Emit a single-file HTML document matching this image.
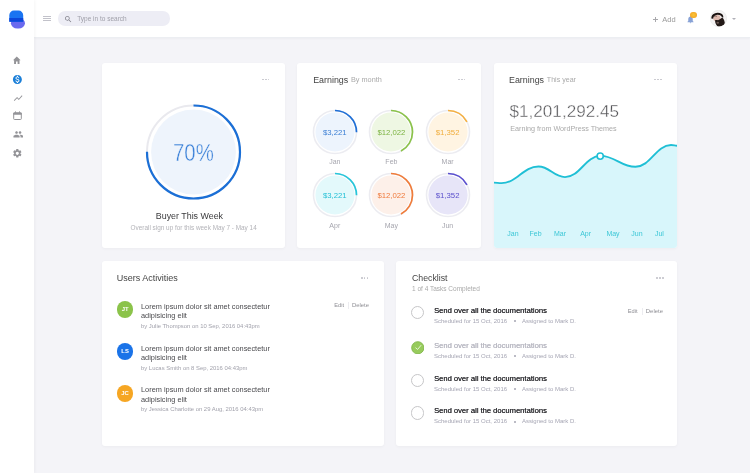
<!DOCTYPE html>
<html><head><meta charset="utf-8">
<style>
*{box-sizing:border-box;margin:0;padding:0}
html,body{width:750px;height:473px;overflow:hidden}
body{background:#f4f4f8;font-family:"Liberation Sans",Arial,sans-serif;position:relative;color:#444}
.a{position:absolute}
.t{position:absolute;line-height:1;white-space:nowrap}
#side{left:0;top:0;width:34px;height:473px;background:#fff;box-shadow:1px 0 3px rgba(0,0,0,.045);z-index:2}
#head{left:34px;top:0;width:716px;height:38px;background:#fff;border-bottom:1px solid #eceef2;box-shadow:0 1px 2px rgba(0,0,0,.03)}
.card{position:absolute;background:#fff;border-radius:3px;box-shadow:0 1px 3px rgba(0,0,0,.035)}
.dots{position:absolute;width:8px;height:2px}
.dots i{position:absolute;top:0;width:1.5px;height:1.5px;border-radius:50%;background:#c4c4cb}
.ttl{font-size:8.9px;color:#444}
.sub{color:#aaa}
</style></head><body>

<!-- sidebar -->
<div id="side" class="a">
  <svg class="a" style="left:0;top:0" width="35" height="36" viewBox="0 0 35 36">
    <defs><clipPath id="lgc"><path d="M9.3 21.7 V15.2 A4.6 4.6 0 0 1 13.9 10.6 H18.6 A4.6 4.6 0 0 1 23.2 15.2 V21.7 Z"/></clipPath></defs>
    <rect x="10.9" y="17.9" width="14.1" height="10.7" rx="6.4" ry="5.3" fill="#6a6aef"/>
    <path d="M9.3 21.7 V15.2 A4.6 4.6 0 0 1 13.9 10.6 H18.6 A4.6 4.6 0 0 1 23.2 15.2 V21.7 Z" fill="#1a74f2"/>
    <rect x="8" y="18" width="17" height="5" fill="#0d47da" clip-path="url(#lgc)"/>
  </svg>
  <!-- icons -->
  <svg class="a" style="left:0;top:0" width="35" height="70" viewBox="0 0 35 70"><path fill="#949498" d="M16.8 56.5 L20.6 60.3 H19.5 V64 H17.6 V61.6 H16 V64 H14.1 V60.3 H13 Z"/></svg>
  <svg class="a" style="left:11.9px;top:73.7px" width="10.8" height="10.8" viewBox="0 0 24 24"><path fill="#1b7fd8" d="M12 2C6.48 2 2 6.48 2 12s4.48 10 10 10 10-4.48 10-10S17.52 2 12 2zm1.41 16.09V20h-2.67v-1.93c-1.71-.36-3.16-1.46-3.27-3.4h1.96c.1 1.05.82 1.870 2.65 1.87 1.96 0 2.4-.98 2.4-1.59 0-.83-.44-1.61-2.67-2.14-2.48-.6-4.18-1.62-4.18-3.67 0-1.72 1.39-2.84 3.11-3.21V4h2.67v1.95c1.86.45 2.79 1.860 2.85 3.39H14.3c-.05-1.11-.64-1.87-2.22-1.87-1.5 0-2.4.68-2.4 1.64 0 .84.65 1.39 2.67 1.91s4.18 1.39 4.18 3.91c-.01 1.830-1.38 2.830-3.12 3.16z"/></svg>
  <svg class="a" style="left:12.5px;top:93.1px" width="10.3" height="10.3" viewBox="0 0 24 24"><path fill="#949498" d="M3.5 18.49l6-6.01 4 4L22 6.92l-1.41-1.41-7.09 7.97-4-4L2 16.99z"/></svg>
  <svg class="a" style="left:0;top:100px" width="35" height="30" viewBox="0 100 35 30"><rect x="13.7" y="112.9" width="7.6" height="6.6" rx="0.8" fill="none" stroke="#949498" stroke-width="1"/><rect x="13.2" y="112.4" width="8.6" height="2.4" rx="0.8" fill="#949498"/><rect x="15" y="111.4" width="1" height="1.4" fill="#949498"/><rect x="19" y="111.4" width="1" height="1.4" fill="#949498"/></svg>
  <svg class="a" style="left:12.6px;top:129.3px" width="10.6" height="10.6" viewBox="0 0 24 24"><path fill="#949498" d="M16 11c1.66 0 2.99-1.34 2.99-3S17.66 5 16 5c-1.66 0-3 1.34-3 3s1.34 3 3 3zm-8 0c1.66 0 2.99-1.34 2.99-3S9.66 5 8 5C6.34 5 5 6.34 5 8s1.34 3 3 3zm0 2c-2.33 0-7 1.17-7 3.5V19h14v-2.5c0-2.33-4.67-3.5-7-3.5zm8 0c-.29 0-.62.02-.97.05 1.16.84 1.97 1.970 1.97 3.45V19h6v-2.5c0-2.33-4.67-3.5-7-3.5z"/></svg>
  <svg class="a" style="left:11.9px;top:148px" width="10.6" height="10.6" viewBox="0 0 24 24"><path fill="#949498" d="M19.14 12.94c.04-.3.06-.61.06-.94 0-.32-.02-.64-.07-.94l2.03-1.58c.18-.14.23-.41.12-.61l-1.92-3.32c-.12-.22-.37-.29-.59-.22l-2.39.96c-.5-.38-1.03-.7-1.62-.94l-.36-2.54c-.04-.24-.24-.41-.48-.41h-3.84c-.24 0-.43.17-.47.41l-.36 2.54c-.59.24-1.130.57-1.62.94l-2.39-.96c-.22-.08-.47 0-.59.22L2.74 8.87c-.12.21-.08.47.12.61l2.03 1.58c-.05.3-.09.63-.09.94s.02.64.07.94l-2.030 1.58c-.18.14-.23.41-.12.61l1.92 3.32c.12.22.37.29.59.22l2.39-.96c.5.38 1.030.7 1.62.94l.36 2.54c.05.24.24.41.48.41h3.84c.24 0 .44-.17.47-.41l.36-2.54c.59-.24 1.13-.56 1.62-.94l2.39.96c.22.08.47 0 .59-.22l1.92-3.32c.12-.22.07-.47-.12-.61l-2.01-1.58zM12 15.6c-1.98 0-3.6-1.62-3.6-3.6s1.62-3.6 3.6-3.6 3.6 1.62 3.6 3.6-1.62 3.6-3.6 3.6z"/></svg>
</div>

<!-- header -->
<div id="head" class="a"></div>
<div class="a" style="left:43.2px;top:16px;width:8px;height:0.9px;background:#c2c2ca"></div>
<div class="a" style="left:43.2px;top:18.2px;width:8px;height:0.9px;background:#c2c2ca"></div>
<div class="a" style="left:43.2px;top:20.4px;width:8px;height:0.9px;background:#c2c2ca"></div>
<div class="a" style="left:58.4px;top:11.4px;width:111.8px;height:14.4px;border-radius:7.2px;background:#ededf5"></div>
<svg class="a" style="left:63.8px;top:14.6px" width="8.5" height="8.5" viewBox="0 0 24 24"><path fill="#7c7c86" d="M15.5 14h-.79l-.28-.27C15.41 12.59 16 11.11 16 9.5 16 5.91 13.09 3 9.5 3S3 5.91 3 9.5 5.91 16 9.5 16c1.61 0 3.09-.59 4.23-1.57l.27.28v.79l5 4.99L20.49 19l-4.99-5zm-6 0C7.01 14 5 11.99 5 9.5S7.01 5 9.5 5 14 7.01 14 9.5 11.99 14 9.5 14z"/></svg>
<div class="t" style="left:77.2px;top:15.6px;font-size:6.5px;color:#a0a0aa">Type in to search</div>

<div class="a" style="left:653px;top:19px;width:5.4px;height:0.75px;background:#a8a8ac"></div><div class="a" style="left:655.3px;top:16.6px;width:0.75px;height:5.4px;background:#a8a8ac"></div>
<div class="t" style="left:662.3px;top:15.8px;font-size:7.5px;color:#9a9a9a">Add</div>
<svg class="a" style="left:685.6px;top:15.2px" width="9" height="9" viewBox="0 0 24 24"><path fill="#88a2d6" d="M12 22c1.1 0 2-.9 2-2h-4c0 1.1.89 2 2 2zm6-6v-5c0-3.070-1.64-5.64-4.5-6.32V4c0-.83-.67-1.5-1.5-1.5s-1.5.67-1.5 1.5v.68C7.63 5.36 6 7.92 6 11v5l-2 2v1h16v-1l-2-2z"/></svg>
<div class="a" style="left:690.4px;top:12.2px;width:6.2px;height:6.2px;border-radius:50%;background:radial-gradient(circle,#f9c53a 0,#f5a623 75%)"></div>
<svg class="a" style="left:709.8px;top:10.2px" width="17" height="17" viewBox="0 0 34 34">
  <defs><clipPath id="av"><circle cx="17" cy="17" r="16"/></clipPath></defs>
  <circle cx="17" cy="17" r="16.4" fill="#f4f3f3" stroke="#dedede" stroke-width="0.8"/>
  <g clip-path="url(#av)">
    <ellipse cx="13.8" cy="16.6" rx="7.2" ry="6.4" fill="#dcb8ad"/>
    <path d="M2.6 17 C2.5 12 5 8.5 9 7 C13 5 19 5 23 7.5 C26 9.5 27 12 26.5 15 L23.5 14.5 C23.5 11.5 20 9.5 15.5 9.5 C11 9.5 7 11.5 6.2 17.5 Z" fill="#1a1210"/>
    <path d="M10 21 C11 19.5 14 19.8 16 20.5 C19 19 22 17 24.5 15 C28 18 30 23 29.5 28 C28 32 23 34 18 33.5 C13.5 33 10.5 28 10 21 Z" fill="#231917"/>
    <ellipse cx="15.5" cy="25.5" rx="2.6" ry="2.2" fill="#6e5c57"/>
    <path d="M8 12.8 C10 11.8 12.5 12 14 13" fill="none" stroke="#3a2824" stroke-width="1.1"/>
  </g>
</svg>
<div class="a" style="left:732px;top:18px;width:0;height:0;border-left:2px solid transparent;border-right:2px solid transparent;border-top:2px solid #b0b0b8"></div>

<!-- Card 1 -->
<div class="card" style="left:102px;top:63px;width:183px;height:185px"></div>
<div class="dots" style="left:262.2px;top:78.65px"><i style="left:0"></i><i style="left:2.9px"></i><i style="left:5.8px"></i></div>
<svg class="a" style="left:140px;top:99px" width="108" height="108" viewBox="0 0 108 108">
  <circle cx="53.5" cy="53" r="42.4" fill="#eef4fc"/>
  <circle cx="53.5" cy="53" r="46.5" fill="none" stroke="#e9e9ee" stroke-width="2"/>
  <circle cx="53.5" cy="53" r="46.5" fill="none" stroke="#1b6fd6" stroke-width="2.2" stroke-dasharray="219.1 400" transform="rotate(-90 53.5 53)"/>
</svg>
<div class="t" style="left:173.4px;top:141.5px;font-size:23.4px;color:#3a80d8;-webkit-text-stroke:0.4px #eef4fc;transform:scaleX(0.87);transform-origin:0 0">70%</div>
<div class="t ttl" style="left:155.8px;top:211.8px;color:#3a3a3c">Buyer This Week</div>
<div class="t sub" style="left:130.6px;top:225.2px;font-size:6.4px;color:#b3b3b8">Overall sign up for this week May 7 - May 14</div>

<!-- Card 2 -->
<div class="card" style="left:297px;top:63px;width:184px;height:185px"></div>
<div class="t ttl" style="left:313.2px;top:75.5px">Earnings</div>
<div class="t sub" style="left:351px;top:76.2px;font-size:7.3px">By month</div>
<div class="dots" style="left:458.2px;top:78.55px"><i style="left:0"></i><i style="left:2.9px"></i><i style="left:5.8px"></i></div>
<div id="months">
<svg class="a" style="left:309.8px;top:106.5px" width="50" height="50" viewBox="0 0 50 50"><circle cx="25" cy="25" r="19.6" fill="#edf4fd"/><circle cx="25" cy="25" r="21.5" fill="none" stroke="#ececf1" stroke-width="1.6"/><circle cx="25" cy="25" r="21.5" fill="none" stroke="#1f6fd6" stroke-width="1.7" stroke-dasharray="33.77 200" transform="rotate(-90 25 25)"/></svg>
<div class="t" style="left:304.8px;width:60px;text-align:center;top:128.9px;font-size:7.75px;color:#3b7fd4">$3,221</div>
<div class="t sub" style="left:304.8px;width:60px;text-align:center;top:157.7px;font-size:7px;color:#a6a6ae">Jan</div>
<svg class="a" style="left:366.4px;top:106.5px" width="50" height="50" viewBox="0 0 50 50"><circle cx="25" cy="25" r="19.6" fill="#eef7e3"/><circle cx="25" cy="25" r="21.5" fill="none" stroke="#ececf1" stroke-width="1.6"/><circle cx="25" cy="25" r="21.5" fill="none" stroke="#8bc34a" stroke-width="1.7" stroke-dasharray="56.74 200" transform="rotate(-90 25 25)"/></svg>
<div class="t" style="left:361.4px;width:60px;text-align:center;top:128.9px;font-size:7.75px;color:#7cb342">$12,022</div>
<div class="t sub" style="left:361.4px;width:60px;text-align:center;top:157.7px;font-size:7px;color:#a6a6ae">Feb</div>
<svg class="a" style="left:422.6px;top:106.5px" width="50" height="50" viewBox="0 0 50 50"><circle cx="25" cy="25" r="19.6" fill="#fff4e2"/><circle cx="25" cy="25" r="21.5" fill="none" stroke="#ececf1" stroke-width="1.6"/><circle cx="25" cy="25" r="21.5" fill="none" stroke="#f5b041" stroke-width="1.7" stroke-dasharray="22.97 200" transform="rotate(-90 25 25)"/></svg>
<div class="t" style="left:417.6px;width:60px;text-align:center;top:128.9px;font-size:7.75px;color:#f0ad3c">$1,352</div>
<div class="t sub" style="left:417.6px;width:60px;text-align:center;top:157.7px;font-size:7px;color:#a6a6ae">Mar</div>
<svg class="a" style="left:309.8px;top:169.7px" width="50" height="50" viewBox="0 0 50 50"><circle cx="25" cy="25" r="19.6" fill="#e3f9fb"/><circle cx="25" cy="25" r="21.5" fill="none" stroke="#ececf1" stroke-width="1.6"/><circle cx="25" cy="25" r="21.5" fill="none" stroke="#26c6da" stroke-width="1.7" stroke-dasharray="33.77 200" transform="rotate(-90 25 25)"/></svg>
<div class="t" style="left:304.8px;width:60px;text-align:center;top:192.1px;font-size:7.75px;color:#26c0d6">$3,221</div>
<div class="t sub" style="left:304.8px;width:60px;text-align:center;top:222.0px;font-size:7px;color:#a6a6ae">Apr</div>
<svg class="a" style="left:366.4px;top:169.7px" width="50" height="50" viewBox="0 0 50 50"><circle cx="25" cy="25" r="19.6" fill="#fdf0e9"/><circle cx="25" cy="25" r="21.5" fill="none" stroke="#ececf1" stroke-width="1.6"/><circle cx="25" cy="25" r="21.5" fill="none" stroke="#f07c3a" stroke-width="1.7" stroke-dasharray="56.74 200" transform="rotate(-90 25 25)"/></svg>
<div class="t" style="left:361.4px;width:60px;text-align:center;top:192.1px;font-size:7.75px;color:#ef7a3c">$12,022</div>
<div class="t sub" style="left:361.4px;width:60px;text-align:center;top:222.0px;font-size:7px;color:#a6a6ae">May</div>
<svg class="a" style="left:422.6px;top:169.7px" width="50" height="50" viewBox="0 0 50 50"><circle cx="25" cy="25" r="19.6" fill="#e7e5f8"/><circle cx="25" cy="25" r="21.5" fill="none" stroke="#ececf1" stroke-width="1.6"/><circle cx="25" cy="25" r="21.5" fill="none" stroke="#5a4fcf" stroke-width="1.7" stroke-dasharray="22.97 200" transform="rotate(-90 25 25)"/></svg>
<div class="t" style="left:417.6px;width:60px;text-align:center;top:192.1px;font-size:7.75px;color:#5b50cc">$1,352</div>
<div class="t sub" style="left:417.6px;width:60px;text-align:center;top:222.0px;font-size:7px;color:#a6a6ae">Jun</div>
</div><!--/months-->

<!-- Card 3 -->
<div class="card" style="left:494px;top:63px;width:183px;height:185px;overflow:hidden"></div>
<div class="t ttl" style="left:509px;top:75.5px">Earnings</div>
<div class="t sub" style="left:546.8px;top:77px;font-size:7.1px">This year</div>
<div class="dots" style="left:654.4px;top:78.65px"><i style="left:0"></i><i style="left:2.9px"></i><i style="left:5.8px"></i></div>
<div class="t" style="left:509.6px;top:102.5px;font-size:17.1px;color:#555558;-webkit-text-stroke:0.35px #fff">$1,201,292.45</div>
<div class="t sub" style="left:510.3px;top:124.8px;font-size:7.2px">Earning from WordPress Themes</div>
<div id="chart">
<div class="a" style="left:494px;top:135px;width:183px;height:113px;overflow:hidden;border-radius:0 0 3px 3px"><svg style="display:block" width="183" height="113" viewBox="0 0 183 113"><path d="M-0.50 47.60 C2.86 47.60 4.14 48.10 7.50 48.10 C23.04 48.10 28.96 31.50 44.50 31.50 C55.63 31.50 59.87 42.10 71.00 42.10 C85.91 42.10 91.59 20.90 106.50 20.90 C121.20 20.90 126.80 31.80 141.50 31.80 C156.41 31.80 162.09 10.00 177.00 10.00 C179.94 10.00 181.06 10.80 184.00 10.80 L185 113 L-2 113 Z" fill="#d8f6fb"/><path d="M-0.50 47.60 C2.86 47.60 4.14 48.10 7.50 48.10 C23.04 48.10 28.96 31.50 44.50 31.50 C55.63 31.50 59.87 42.10 71.00 42.10 C85.91 42.10 91.59 20.90 106.50 20.90 C121.20 20.90 126.80 31.80 141.50 31.80 C156.41 31.80 162.09 10.00 177.00 10.00 C179.94 10.00 181.06 10.80 184.00 10.80" fill="none" stroke="#1fbfd5" stroke-width="1.9" stroke-linecap="round"/><circle cx="106.2" cy="21.1" r="3.1" fill="#fff" stroke="#1fbfd5" stroke-width="1.6"/></svg></div>
<div class="t" style="left:498.0px;width:30px;text-align:center;top:229.8px;font-size:7px;color:#3cc7d6">Jan</div>
<div class="t" style="left:520.6px;width:30px;text-align:center;top:229.8px;font-size:7px;color:#3cc7d6">Feb</div>
<div class="t" style="left:545.0px;width:30px;text-align:center;top:229.8px;font-size:7px;color:#3cc7d6">Mar</div>
<div class="t" style="left:570.6px;width:30px;text-align:center;top:229.8px;font-size:7px;color:#3cc7d6">Apr</div>
<div class="t" style="left:598.0px;width:30px;text-align:center;top:229.8px;font-size:7px;color:#3cc7d6">May</div>
<div class="t" style="left:622.0px;width:30px;text-align:center;top:229.8px;font-size:7px;color:#3cc7d6">Jun</div>
<div class="t" style="left:644.4px;width:30px;text-align:center;top:229.8px;font-size:7px;color:#3cc7d6">Jul</div>
</div><!--/chart-->

<!-- Card 4 -->
<div class="card" style="left:102px;top:261px;width:281.5px;height:184.5px"></div>
<div class="t ttl" style="left:116.8px;top:274px;font-size:9px">Users Activities</div>
<div class="dots" style="left:361px;top:277.15px"><i style="left:0"></i><i style="left:2.9px"></i><i style="left:5.8px"></i></div>
<div id="acts">
<div class="a" style="left:116.8px;top:301.3px;width:16.6px;height:16.6px;border-radius:50%;background:#8bc34a"></div>
<div class="t" style="left:116.8px;width:16.6px;text-align:center;top:306.9px;font-size:5.9px;font-weight:700;color:#fff">JT</div>
<div class="t" style="left:141px;top:301.60px;font-size:7.37px;color:#4a4a4e;line-height:1.262">Lorem ipsum dolor sit amet consectetur<br>adipisicing elit</div>
<div class="t" style="left:141px;top:323.61px;font-size:5.9px;color:#a2a2ac">by Julie Thompson on 10 Sep, 2016 04:43pm</div>
<div class="a" style="left:116.8px;top:343.2px;width:16.6px;height:16.6px;border-radius:50%;background:#1a73e8"></div>
<div class="t" style="left:116.8px;width:16.6px;text-align:center;top:348.8px;font-size:5.9px;font-weight:700;color:#fff">LS</div>
<div class="t" style="left:141px;top:343.50px;font-size:7.37px;color:#4a4a4e;line-height:1.262">Lorem ipsum dolor sit amet consectetur<br>adipisicing elit</div>
<div class="t" style="left:141px;top:365.51px;font-size:5.9px;color:#a2a2ac">by Lucas Smith on 8 Sep, 2016 04:43pm</div>
<div class="a" style="left:116.8px;top:385.1px;width:16.6px;height:16.6px;border-radius:50%;background:#f6a623"></div>
<div class="t" style="left:116.8px;width:16.6px;text-align:center;top:390.7px;font-size:5.9px;font-weight:700;color:#fff">JC</div>
<div class="t" style="left:141px;top:385.40px;font-size:7.37px;color:#4a4a4e;line-height:1.262">Lorem ipsum dolor sit amet consectetur<br>adipisicing elit</div>
<div class="t" style="left:141px;top:407.41px;font-size:5.9px;color:#a2a2ac">by Jessica Charlotte on 29 Aug, 2016 04:43pm</div>
<div class="t" style="left:334.3px;top:302.8px;font-size:5.7px;color:#8e8e94">Edit</div>
<div class="a" style="left:348.3px;top:301.5px;width:0.6px;height:7px;background:#ececf0"></div>
<div class="t" style="left:351.9px;top:302.8px;font-size:5.95px;color:#8e8e94">Delete</div>
</div><!--/acts-->

<!-- Card 5 -->
<div class="card" style="left:395.5px;top:261px;width:281.5px;height:184.5px"></div>
<div class="t ttl" style="left:412px;top:273.8px;font-size:8.75px">Checklist</div>
<div class="t sub" style="left:412px;top:285.5px;font-size:6.5px">1 of 4 Tasks Completed</div>
<div class="dots" style="left:656.3px;top:277.15px"><i style="left:0"></i><i style="left:2.9px"></i><i style="left:5.8px"></i></div>
<div id="checks">
<div class="a" style="left:410.6px;top:305.6px;width:13.6px;height:13.6px;border-radius:50%;border:1.3px solid #c6c6c8"></div>
<div class="t" style="left:434px;top:306.87px;font-size:7.6px;font-weight:400;color:#2e2e32;text-shadow:0.25px 0 0 #2e2e32">Send over all the documentations</div>
<div class="t" style="left:434px;top:317.92px;font-size:6.0px;color:#a6a6b4">Scheduled for 15 Oct, 2016</div>
<div class="a" style="left:514px;top:320px;width:2px;height:2px;border-radius:50%;background:#a4a4b2"></div>
<div class="t" style="left:522px;top:317.92px;font-size:6.0px;color:#a6a6b4">Assigned to Mark D.</div>
<svg class="a" style="left:410.6px;top:340.6px" width="13.6" height="13.6" viewBox="0 0 14 14"><circle cx="7" cy="7" r="6.3" fill="#97cb5c" stroke="#7db445" stroke-width="0.9"/><path d="M4.9 7.1 L6.8 8.7 L10.2 4.6" fill="none" stroke="#e6f5d6" stroke-width="1" stroke-linecap="round" stroke-linejoin="round"/></svg>
<div class="t" style="left:434px;top:341.87px;font-size:7.6px;font-weight:400;color:#b8b8c2;text-shadow:0.25px 0 0 #b8b8c2">Send over all the documentations</div>
<div class="t" style="left:434px;top:352.92px;font-size:6.0px;color:#a6a6b4">Scheduled for 15 Oct, 2016</div>
<div class="a" style="left:514px;top:355px;width:2px;height:2px;border-radius:50%;background:#a4a4b2"></div>
<div class="t" style="left:522px;top:352.92px;font-size:6.0px;color:#a6a6b4">Assigned to Mark D.</div>
<div class="a" style="left:410.6px;top:373.6px;width:13.6px;height:13.6px;border-radius:50%;border:1.3px solid #c6c6c8"></div>
<div class="t" style="left:434px;top:374.87px;font-size:7.6px;font-weight:400;color:#2e2e32;text-shadow:0.25px 0 0 #2e2e32">Send over all the documentations</div>
<div class="t" style="left:434px;top:385.92px;font-size:6.0px;color:#a6a6b4">Scheduled for 15 Oct, 2016</div>
<div class="a" style="left:514px;top:388px;width:2px;height:2px;border-radius:50%;background:#a4a4b2"></div>
<div class="t" style="left:522px;top:385.92px;font-size:6.0px;color:#a6a6b4">Assigned to Mark D.</div>
<div class="a" style="left:410.6px;top:406.0px;width:13.6px;height:13.6px;border-radius:50%;border:1.3px solid #c6c6c8"></div>
<div class="t" style="left:434px;top:407.27px;font-size:7.6px;font-weight:400;color:#2e2e32;text-shadow:0.25px 0 0 #2e2e32">Send over all the documentations</div>
<div class="t" style="left:434px;top:418.32px;font-size:6.0px;color:#a6a6b4">Scheduled for 15 Oct, 2016</div>
<div class="a" style="left:514px;top:421px;width:2px;height:2px;border-radius:50%;background:#a4a4b2"></div>
<div class="t" style="left:522px;top:418.32px;font-size:6.0px;color:#a6a6b4">Assigned to Mark D.</div>
<div class="t" style="left:627.7px;top:308.8px;font-size:5.7px;color:#8e8e94">Edit</div>
<div class="a" style="left:642.3px;top:307.5px;width:0.6px;height:7px;background:#ececf0"></div>
<div class="t" style="left:645.8px;top:308.8px;font-size:5.95px;color:#8e8e94">Delete</div>
</div><!--/checks-->

</body></html>
